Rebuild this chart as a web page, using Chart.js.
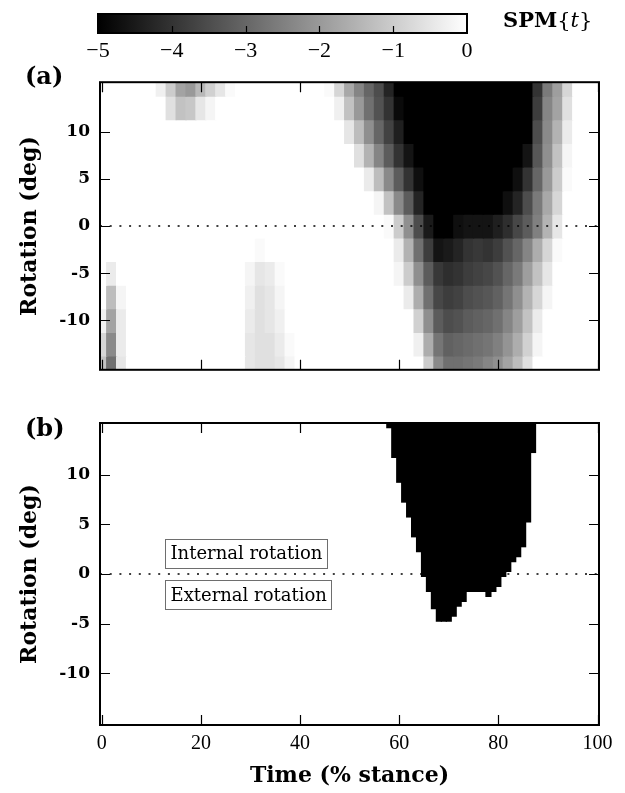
<!DOCTYPE html>
<html>
<head>
<meta charset="utf-8">
<script src="https://cdn.jsdelivr.net/npm/chart.js@4.4.1/dist/chart.umd.min.js"></script>
<style>
  body { margin: 0; background: #fff; }
  #page { position: relative; width: 625px; height: 793px; overflow: hidden; }
  canvas { position: absolute; left: 0; }
  .lbl { position: absolute; font-family: "DejaVu Serif", serif; font-weight: bold; color: #000; white-space: nowrap; }
</style>
</head>
<body>
<div id="page">
  <canvas id="cbar" width="625" height="70" style="top:0px"></canvas>
  <canvas id="panelA" width="625" height="328" style="top:62px"></canvas>
  <canvas id="panelB" width="625" height="398" style="top:395px"></canvas>
  <div class="lbl" style="left:25px; top:64px; font-size:24px; line-height:24px">(a)</div>
  <div class="lbl" style="left:25px; top:416px; font-size:24px; line-height:24px">(b)</div>
  <div class="lbl" style="left:503px; top:9px; font-size:21px; line-height:21px">SPM<span style="font-weight:normal">{<i>t</i>}</span></div>
</div>
<script>
// ---- values ----
const cbTicks = [-5, -4, -3, -2, -1, 0];
const xTicks = [0, 20, 40, 60, 80, 100];
const yTicks = [-10, -5, 0, 5, 10];

// panel (a): SPM{t}, time every 2 % stance, rotation every 2.5 deg
const aTime = [0, 2, 4, 6, 8, 10, 12, 14, 16, 18,
  20, 22, 24, 26, 28, 30, 32, 34, 36, 38,
  40, 42, 44, 46, 48, 50, 52, 54, 56, 58,
  60, 62, 64, 66, 68, 70, 72, 74, 76, 78,
  80, 82, 84, 86, 88, 90, 92, 94, 96, 98, 100];
const aRotation = [15, 12.5, 10, 7.5, 5, 2.5, 0, -2.5, -5, -7.5, -10, -12.5, -15];

const spmRot15 = [0, 0, 0, 0, 0, 0, -0.3, -1.0, -1.8, -2.0,
  -1.4, -0.9, -0.5, -0.1, 0, 0, 0, 0, 0, 0,
  0, 0, 0, -0.1, -0.8, -1.7, -2.4, -3.0, -3.5, -4.3,
  -5, -5, -5, -5, -5, -5, -5, -5, -5, -5,
  -5, -5, -5, -5, -4.0, -2.6, -1.9, -0.8, 0, 0, 0];
const spmRot12_5 = [0, 0, 0, 0, 0, 0, 0, -0.6, -1.2, -1.1,
  -0.5, -0.2, 0, 0, 0, 0, 0, 0, 0, 0,
  0, 0, 0, 0, -0.3, -1.2, -2.0, -2.8, -3.4, -4.0,
  -4.8, -5, -5, -5, -5, -5, -5, -5, -5, -5,
  -5, -5, -5, -5, -3.8, -2.4, -1.8, -0.6, 0, 0, 0];
const spmRot10 = [0, 0, 0, 0, 0, 0, 0, 0, 0, 0,
  0, 0, 0, 0, 0, 0, 0, 0, 0, 0,
  0, 0, 0, 0, 0, -0.5, -1.3, -2.2, -3.0, -3.7,
  -4.4, -5, -5, -5, -5, -5, -5, -5, -5, -5,
  -5, -5, -5, -5, -3.5, -2.3, -1.5, -0.4, 0, 0, 0];
const spmRot7_5 = [0, 0, 0, 0, 0, 0, 0, 0, 0, 0,
  0, 0, 0, 0, 0, 0, 0, 0, 0, 0,
  0, 0, 0, 0, 0, 0, -0.6, -1.5, -2.4, -3.2,
  -4.0, -4.6, -5, -5, -5, -5, -5, -5, -5, -5,
  -5, -5, -5, -4.6, -3.3, -2.2, -1.2, -0.2, 0, 0, 0];
const spmRot5 = [0, 0, 0, 0, 0, 0, 0, 0, 0, 0,
  0, 0, 0, 0, 0, 0, 0, 0, 0, 0,
  0, 0, 0, 0, 0, 0, 0, -0.4, -1.3, -2.3,
  -3.2, -4.0, -4.7, -5, -5, -5, -5, -5, -5, -5,
  -5, -5, -4.7, -4.0, -3.0, -2.0, -1.0, -0.1, 0, 0, 0];
const spmRot2_5 = [0, 0, 0, 0, 0, 0, 0, 0, 0, 0,
  0, 0, 0, 0, 0, 0, 0, 0, 0, 0,
  0, 0, 0, 0, 0, 0, 0, 0, -0.2, -1.2,
  -2.3, -3.2, -4.3, -5, -5, -5, -5, -5, -5, -5,
  -5, -4.7, -4.3, -3.5, -2.6, -1.7, -0.8, 0, 0, 0, 0];
const spmRot0 = [0, 0, 0, 0, 0, 0, 0, 0, 0, 0,
  0, 0, 0, 0, 0, 0, 0, 0, 0, 0,
  0, 0, 0, 0, 0, 0, 0, 0, 0, -0.1,
  -1.0, -2.2, -3.5, -4.5, -5, -5, -4.7, -4.6, -4.6, -4.6,
  -4.4, -4.1, -3.6, -3.2, -2.5, -1.5, -0.5, 0, 0, 0, 0];
const spmRotM2_5 = [0, 0, 0, 0, 0, 0, 0, 0, 0, 0,
  0, 0, 0, 0, 0, 0, -0.1, 0, 0, 0,
  0, 0, 0, 0, 0, 0, 0, 0, 0, 0,
  -0.4, -1.5, -2.8, -3.8, -4.6, -4.5, -4.3, -4.0, -3.9, -4.0,
  -3.8, -3.4, -3.0, -2.4, -1.6, -0.8, -0.1, 0, 0, 0, 0];
const spmRotM5 = [0, -0.4, 0, 0, 0, 0, 0, 0, 0, 0,
  0, 0, 0, 0, 0, -0.2, -0.5, -0.4, -0.1, 0,
  0, 0, 0, 0, 0, 0, 0, 0, 0, 0,
  -0.2, -1.0, -2.2, -3.2, -3.9, -4.1, -4.0, -3.8, -3.7, -3.6,
  -3.4, -3.0, -2.6, -1.9, -1.2, -0.5, 0, 0, 0, 0, 0];
const spmRotM7_5 = [0, -1.3, -0.2, 0, 0, 0, 0, 0, 0, 0,
  0, 0, 0, 0, 0, -0.3, -0.6, -0.5, -0.2, 0,
  0, 0, 0, 0, 0, 0, 0, 0, 0, 0,
  0, -0.4, -1.6, -2.8, -3.6, -3.8, -3.7, -3.5, -3.4, -3.3,
  -3.1, -2.7, -2.2, -1.5, -0.8, -0.2, 0, 0, 0, 0, 0];
const spmRotM10 = [-0.3, -1.8, -0.4, 0, 0, 0, 0, 0, 0, 0,
  0, 0, 0, 0, 0, -0.4, -0.6, -0.5, -0.3, 0,
  0, 0, 0, 0, 0, 0, 0, 0, 0, 0,
  0, 0, -0.9, -2.2, -3.2, -3.5, -3.4, -3.2, -3.1, -3.0,
  -2.8, -2.4, -1.9, -1.2, -0.4, 0, 0, 0, 0, 0, 0];
const spmRotM12_5 = [-0.8, -2.3, -0.4, 0, 0, 0, 0, 0, 0, 0,
  0, 0, 0, 0, 0, -0.5, -0.6, -0.6, -0.4, -0.1,
  0, 0, 0, 0, 0, 0, 0, 0, 0, 0,
  0, 0, -0.3, -1.6, -2.7, -3.1, -3.0, -2.9, -2.8, -2.7,
  -2.5, -2.1, -1.6, -0.9, -0.2, 0, 0, 0, 0, 0, 0];
const spmRotM15 = [-1.2, -2.8, -0.5, 0, 0, 0, 0, 0, 0, 0,
  0, 0, 0, 0, 0, -0.5, -0.6, -0.6, -0.5, -0.2,
  0, 0, 0, 0, 0, 0, 0, 0, 0, 0,
  0, 0, 0, -1.0, -2.3, -2.8, -2.8, -2.7, -2.6, -2.4,
  -2.2, -1.8, -1.3, -0.6, 0, 0, 0, 0, 0, 0, 0];
const spmRows = [spmRot15, spmRot12_5, spmRot10, spmRot7_5, spmRot5, spmRot2_5, spmRot0,
  spmRotM2_5, spmRotM5, spmRotM7_5, spmRotM10, spmRotM12_5, spmRotM15];

// panel (b): supra-threshold columns, black from the top down to these rotations
const bTime = [58, 59, 60, 61, 62, 63, 64, 65, 66, 67,
  68, 69, 70, 71, 72, 73, 74, 75, 76, 77,
  78, 79, 80, 81, 82, 83, 84, 85, 86, 87];
const bLower = [14.75, 11.75, 9.25, 7.25, 5.75, 3.75, 2.25, -0.25, -1.75, -3.5,
  -4.75, -4.75, -4.75, -4.25, -3.25, -2.75, -1.75, -1.75, -1.75, -1.75,
  -2.25, -1.75, -1.25, -0.25, 0.25, 1.25, 1.75, 2.75, 5.25, 12.25];

const noteLabels = ["Internal rotation", "External rotation"];

// ---- axes / layout ----
const xMin = -0.35, xMax = 100.3;
const yMin = -15.22, yMax = 15.22;
const rowHalf = 1.25;
const serif = '"DejaVu Serif", serif';
const numSerif = '"Liberation Serif", serif';

function spmGray(v) {
  const g = Math.round(255 * Math.min(1, Math.max(0, (v + 5) / 5)));
  return "rgb(" + g + "," + g + "," + g + ")";
}

// frame and inward tick marks on all four sides
const frameTicks = {
  id: "frameTicks",
  afterDraw(chart) {
    const { ctx, chartArea: a, scales: { x, y } } = chart;
    ctx.save();
    ctx.strokeStyle = "#000";
    ctx.lineWidth = 1.2;
    ctx.beginPath();
    xTicks.forEach(v => {
      const px = Math.round(x.getPixelForValue(v)) + 0.5;
      ctx.moveTo(px, a.bottom); ctx.lineTo(px, a.bottom - 10);
      ctx.moveTo(px, a.top); ctx.lineTo(px, a.top + 10);
    });
    yTicks.forEach(v => {
      const py = Math.round(y.getPixelForValue(v)) + 0.5;
      ctx.moveTo(a.left, py); ctx.lineTo(a.left + 10, py);
      ctx.moveTo(a.right, py); ctx.lineTo(a.right - 10, py);
    });
    ctx.stroke();
    ctx.lineWidth = 2;
    ctx.strokeRect(a.left, a.top, a.right - a.left, a.bottom - a.top);
    ctx.restore();
  }
};

const noteBoxes = {
  id: "noteBoxes",
  afterDatasetsDraw(chart) {
    const { ctx, scales: { x, y } } = chart;
    const spots = [[12.75, 2.1], [12.75, -2.1]];
    ctx.save();
    ctx.font = "18px " + serif;
    ctx.textBaseline = "middle";
    noteLabels.forEach((txt, i) => {
      const left = Math.round(x.getPixelForValue(spots[i][0])) + 0.5;
      const cy = y.getPixelForValue(spots[i][1]);
      const w = Math.round(ctx.measureText(txt).width + 10);
      const h = 29;
      const top = Math.round(cy - h / 2) + 0.5;
      ctx.fillStyle = "#fff";
      ctx.fillRect(left, top, w, h);
      ctx.strokeStyle = "#6e6e6e";
      ctx.lineWidth = 1;
      ctx.strokeRect(left, top, w, h);
      ctx.fillStyle = "#000";
      ctx.fillText(txt, left + 5, cy + 1);
    });
    ctx.restore();
  }
};

function zeroLine() {
  return {
    type: "line",
    data: [{ x: xMin, y: 0 }, { x: xMax, y: 0 }],
    borderColor: "#000",
    borderWidth: 1.5,
    borderDash: [2, 7.7],
    pointRadius: 0,
    clip: 0,
    order: -1
  };
}

function yAxis() {
  return {
    type: "linear",
    min: yMin,
    max: yMax,
    grid: { display: false, drawTicks: false },
    border: { display: false },
    afterBuildTicks: s => { s.ticks = yTicks.map(v => ({ value: v })); },
    afterFit: s => { s.width = 100; },
    ticks: { color: "#000", padding: 10, font: { family: serif, weight: "bold", size: 17 } },
    title: {
      display: true, text: "Rotation (deg)", color: "#000",
      padding: { top: 17 }, font: { family: serif, weight: "bold", size: 22 }
    }
  };
}

// ---- colour bar ----
new Chart(document.getElementById("cbar"), {
  type: "bar",
  data: {
    labels: ["SPM"],
    datasets: [{
      data: [[cbTicks[0], cbTicks[cbTicks.length - 1]]],
      backgroundColor: c => {
        const xs = c.chart.scales.x;
        if (!xs || !c.chart.chartArea) return "#888";
        const g = c.chart.ctx.createLinearGradient(xs.getPixelForValue(cbTicks[0]), 0,
          xs.getPixelForValue(cbTicks[cbTicks.length - 1]), 0);
        g.addColorStop(0, "#000");
        g.addColorStop(1, "#fff");
        return g;
      },
      barPercentage: 1,
      categoryPercentage: 1
    }]
  },
  options: {
    indexAxis: "y",
    responsive: false,
    animation: false,
    devicePixelRatio: 1,
    events: [],
    layout: { padding: { left: 98, right: 158, top: 14, bottom: 0 } },
    plugins: { legend: { display: false }, tooltip: { enabled: false } },
    scales: {
      x: {
        type: "linear", min: cbTicks[0], max: cbTicks[cbTicks.length - 1],
        grid: { display: false, drawTicks: false },
        border: { display: false },
        afterBuildTicks: s => { s.ticks = cbTicks.map(v => ({ value: v })); },
        afterFit: s => { s.height = 37; },
        ticks: {
          color: "#000", padding: 5, autoSkip: false, maxRotation: 0,
          font: { family: numSerif, size: 22 },
          callback: v => (v < 0 ? "\u2212" + Math.abs(v) : String(v))
        }
      },
      y: { display: false }
    }
  },
  plugins: [{
    id: "cbFrame",
    afterDraw(chart) {
      const { ctx, chartArea: a, scales: { x } } = chart;
      ctx.save();
      ctx.strokeStyle = "#000";
      ctx.lineWidth = 1.2;
      ctx.beginPath();
      cbTicks.slice(1, -1).forEach(v => {
        const px = Math.round(x.getPixelForValue(v)) + 0.5;
        ctx.moveTo(px, a.bottom); ctx.lineTo(px, a.bottom - 7);
      });
      ctx.stroke();
      ctx.lineWidth = 2;
      ctx.strokeRect(a.left, a.top, a.right - a.left, a.bottom - a.top);
      ctx.restore();
    }
  }]
});

// ---- panel (a): SPM{t} field ----
const heatSets = aRotation.map((rot, r) => ({
  type: "bar",
  data: aTime.map(t => ({ x: t, y: [rot - rowHalf, rot + rowHalf] })),
  backgroundColor: spmRows[r].map(spmGray),
  grouped: false,
  barPercentage: 1,
  categoryPercentage: 1,
  inflateAmount: 0.6,
  clip: 0,
  order: 1
}));

new Chart(document.getElementById("panelA"), {
  type: "bar",
  data: { datasets: heatSets.concat([zeroLine()]) },
  options: {
    responsive: false,
    animation: false,
    devicePixelRatio: 1,
    events: [],
    layout: { padding: { left: 0, right: 26, top: 14, bottom: 13 } },
    plugins: { legend: { display: false }, tooltip: { enabled: false } },
    scales: {
      x: { type: "linear", min: xMin, max: xMax, offset: false, display: false },
      y: yAxis()
    }
  },
  plugins: [frameTicks]
});

// ---- panel (b): thresholded ----
new Chart(document.getElementById("panelB"), {
  type: "bar",
  data: {
    datasets: [{
      type: "bar",
      data: bTime.map((t, i) => ({ x: t, y: [bLower[i], yMax] })),
      backgroundColor: "#000",
      grouped: false,
      barPercentage: 1,
      categoryPercentage: 1,
      inflateAmount: 0.6,
      clip: 0,
      order: 1
    }, zeroLine()]
  },
  options: {
    responsive: false,
    animation: false,
    devicePixelRatio: 1,
    events: [],
    layout: { padding: { left: 0, right: 26, top: 28, bottom: 0 } },
    plugins: { legend: { display: false }, tooltip: { enabled: false } },
    scales: {
      x: {
        type: "linear", min: xMin, max: xMax, offset: false,
        grid: { display: false, drawTicks: false },
        border: { display: false },
        afterBuildTicks: s => { s.ticks = xTicks.map(v => ({ value: v })); },
        afterFit: s => { s.height = 68; },
        ticks: { color: "#000", padding: 7, autoSkip: false, maxRotation: 0, font: { family: numSerif, size: 20 } },
        title: {
          display: true, text: "Time (% stance)", color: "#000",
          padding: { bottom: 4 }, font: { family: serif, weight: "bold", size: 22 }
        }
      },
      y: yAxis()
    }
  },
  plugins: [noteBoxes, frameTicks]
});
</script>
</body>
</html>
